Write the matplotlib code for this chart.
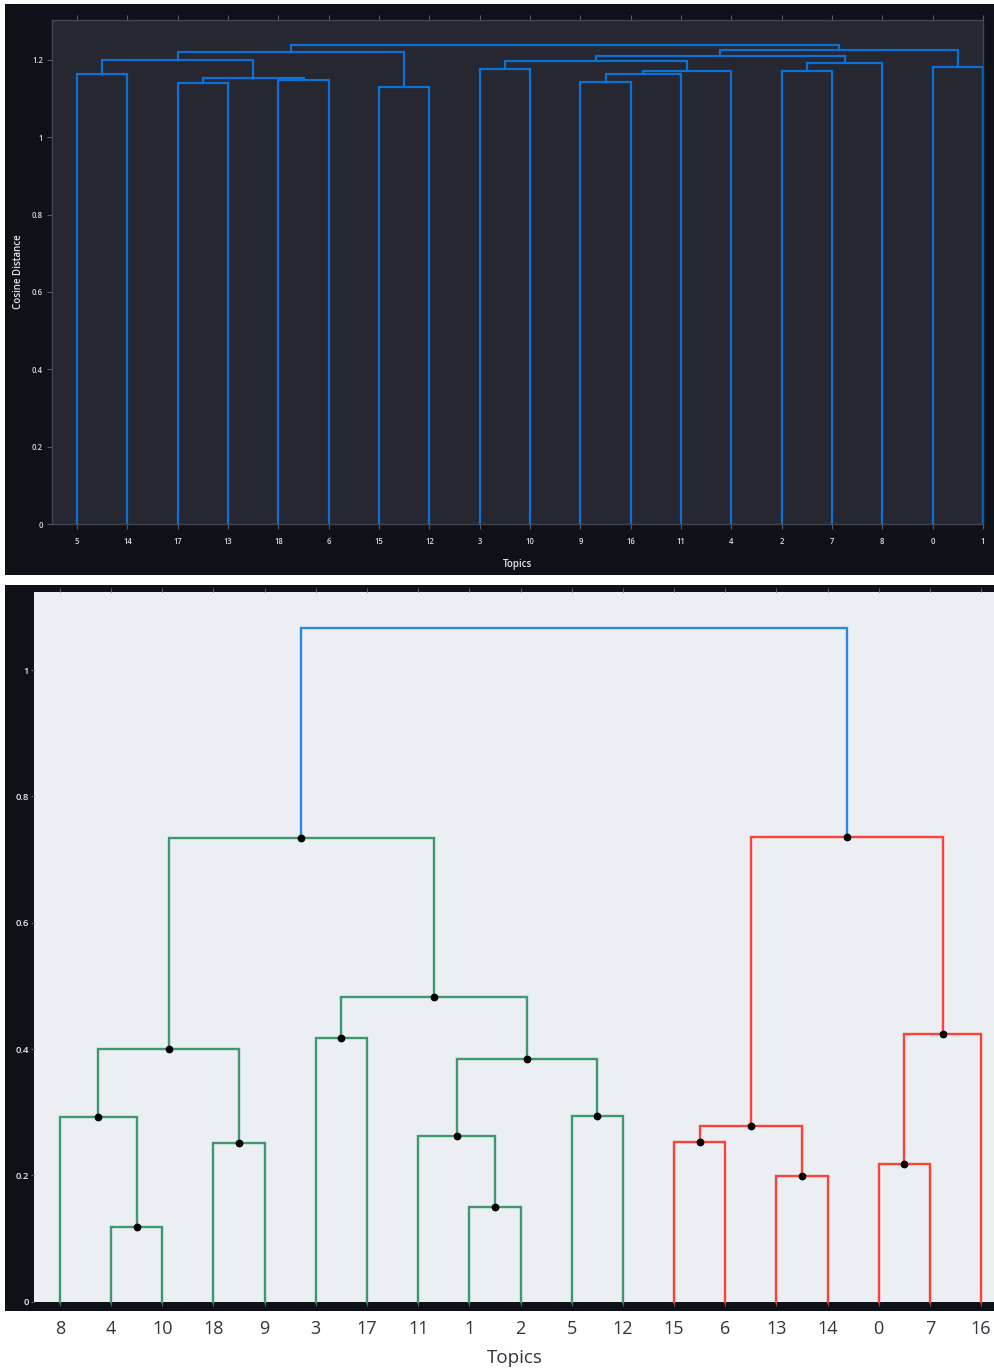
import matplotlib
matplotlib.use("Agg")
import matplotlib.pyplot as plt
from matplotlib.patches import Rectangle
from matplotlib.ticker import FuncFormatter

# ---------------------------------------------------------------------------
# Linkage data: ids 0..18 are topics, id 19+k is the k-th merge.
# ---------------------------------------------------------------------------
n_topics = 19

# Upper dendrogram (cosine distance between topic vectors)
top_left = [5, 17, 18, 20, 19, 15, 23, 3, 9, 27, 28, 26, 2, 31, 30, 0, 33, 25]
top_right = [14, 13, 6, 21, 22, 12, 24, 10, 16, 11, 4, 29, 7, 8, 32, 1, 34, 35]
top_height = [1.1645, 1.141, 1.148, 1.1525, 1.2007, 1.131, 1.2206, 1.1766,
              1.144, 1.1637, 1.1706, 1.198, 1.1714, 1.1913, 1.2102, 1.1826,
              1.2258, 1.2395]

# Lower dendrogram
bot_left = [4, 8, 18, 20, 3, 1, 11, 5, 25, 23, 22, 15, 13, 30, 0, 33, 32, 29]
bot_right = [10, 19, 9, 21, 17, 2, 24, 12, 26, 27, 28, 6, 14, 31, 7, 16, 34, 35]
bot_height = [0.1187, 0.2924, 0.2507, 0.3995, 0.417, 0.1499, 0.2623, 0.2945,
              0.3837, 0.4829, 0.7336, 0.2533, 0.199, 0.2787, 0.2185, 0.4243,
              0.7361, 1.067]

DARK_BG = "#0e1117"
DARK_AX = "#262730"
LIGHT_AX = "#ebeef2"


def leaf_order(left, right, n):
    root = n + len(left) - 1

    def walk(node):
        if node < n:
            return [node]
        k = node - n
        return walk(left[k]) + walk(right[k])

    return walk(root)


def draw_dendrogram(ax, left, right, height, n, above_color, cluster_colors,
                    lw, dots=False, threshold_ratio=0.7):
    order = leaf_order(left, right, n)
    xpos = {leaf: 5 + 10 * i for i, leaf in enumerate(order)}
    ypos = {leaf: 0.0 for leaf in order}
    threshold = threshold_ratio * max(height)

    # assign a colour to each subtree that sits under the threshold
    color_of = {}
    counter = [0]

    def paint(node, col):
        if node < n:
            return
        k = node - n
        if col is None and height[k] < threshold:
            col = cluster_colors[counter[0] % len(cluster_colors)]
            counter[0] += 1
        color_of[node] = col if col is not None else above_color
        paint(left[k], col)
        paint(right[k], col)

    root = n + len(left) - 1
    paint(root, None)

    for k in range(len(left)):
        node = n + k
        a, b = left[k], right[k]
        xa, xb = xpos[a], xpos[b]
        h = height[k]
        ax.plot([xa, xa, xb, xb], [ypos[a], h, h, ypos[b]],
                color=color_of[node], lw=lw, solid_joinstyle="miter",
                clip_on=False, zorder=2)
        xpos[node] = (xa + xb) / 2
        ypos[node] = h

    if dots:
        for k in range(len(left) - 1):
            node = n + k
            ax.plot(xpos[node], ypos[node], "o", color="black", ms=4.6,
                    zorder=3, clip_on=False)
    return order


W, H = 995, 1370
fig = plt.figure(figsize=(W / 100, H / 100), dpi=100, facecolor="white")


def rect_px(x0, y0, x1, y1, color):
    fig.patches.append(Rectangle((x0 / W, 1 - y1 / H), (x1 - x0) / W,
                                 (y1 - y0) / H, transform=fig.transFigure,
                                 facecolor=color, edgecolor="none",
                                 zorder=-5))


def axes_px(x0, y0, x1, y1):
    return fig.add_axes([x0 / W, 1 - y1 / H, (x1 - x0) / W, (y1 - y0) / H])


# ---------------------------- upper panel ---------------------------------
rect_px(5, 4, 995, 575, DARK_BG)
ax1 = axes_px(52, 20, 983, 524)
ax1.set_facecolor(DARK_AX)
order1 = draw_dendrogram(ax1, top_left, top_right, top_height, n_topics,
                         "#0a72d6", ["#0a72d6"], lw=1.6)
ax1.set_xlim(0, 185)
ax1.set_ylim(0, (524 - 20) / 386.7)
ax1.set_xticks([5 + 10 * i for i in range(n_topics)])
ax1.set_xticklabels([str(t) for t in order1])
ax1.set_yticks([0, 0.2, 0.4, 0.6, 0.8, 1.0, 1.2])
ax1.yaxis.set_major_formatter(FuncFormatter(lambda v, p: f"{v:g}"))
ax1.tick_params(axis="both", colors="#5a5c66", labelcolor="#dcdcdc",
                labelsize=5.5, length=3.5, width=0.8)
ax1.tick_params(axis="x", top=True, pad=6)
ax1.tick_params(axis="y", pad=3)
for sp in ax1.spines.values():
    sp.set_color("#44464f")
    sp.set_linewidth(1.0)
ax1.set_xlabel("Topics", color="#e6e6e6", fontsize=7, labelpad=9,
               family="Open Sans", fontweight="semibold")
ax1.set_ylabel("Cosine Distance", color="#e6e6e6", fontsize=7, labelpad=6,
               family="Open Sans", fontweight="semibold")
for lab in ax1.get_xticklabels() + ax1.get_yticklabels():
    lab.set_family("Open Sans")
    lab.set_fontweight("semibold")

# ---------------------------- lower panel ---------------------------------
rect_px(5, 585, 995, 592, DARK_BG)
rect_px(5, 585, 34, 1311, DARK_BG)
rect_px(5, 1302, 995, 1311, DARK_BG)

unit = 631.7
ax2 = axes_px(34.4, 592, 995, 1301.7)
ax2.set_facecolor(LIGHT_AX)
order2 = draw_dendrogram(ax2, bot_left, bot_right, bot_height, n_topics,
                         "#2c88e3", ["#3d9970", "#ff4136"], lw=1.7,
                         dots=True)
ax2.set_xlim(0, 190 * (995 - 34.4) / (1006.6 - 34.4))
ax2.set_ylim(0, (1301.7 - 592) / unit)
ax2.set_xticks([5 + 10 * i for i in range(n_topics)])
ax2.set_xticklabels([str(t) for t in order2])
ax2.set_yticks([0, 0.2, 0.4, 0.6, 0.8, 1.0])
ax2.yaxis.set_major_formatter(FuncFormatter(lambda v, p: f"{v:g}"))
ax2.tick_params(axis="x", colors="#5a5c66", labelcolor="#31333f",
                labelsize=13, length=3, width=0.8, pad=10, top=True)
ax2.tick_params(axis="y", colors="#5a5c66", labelcolor="#ececec",
                labelsize=6.8, length=2.5, width=0.8, pad=1.5)
for lab in ax2.get_xticklabels():
    lab.set_family("Open Sans")
for lab in ax2.get_yticklabels():
    lab.set_family("Open Sans")
    lab.set_fontweight("semibold")
for sp in ax2.spines.values():
    sp.set_visible(False)
ax2.set_xlabel("Topics", color="#31333f", fontsize=13.5, labelpad=8,
               family="Open Sans")

fig.savefig("out.png", dpi=100, facecolor="white")
